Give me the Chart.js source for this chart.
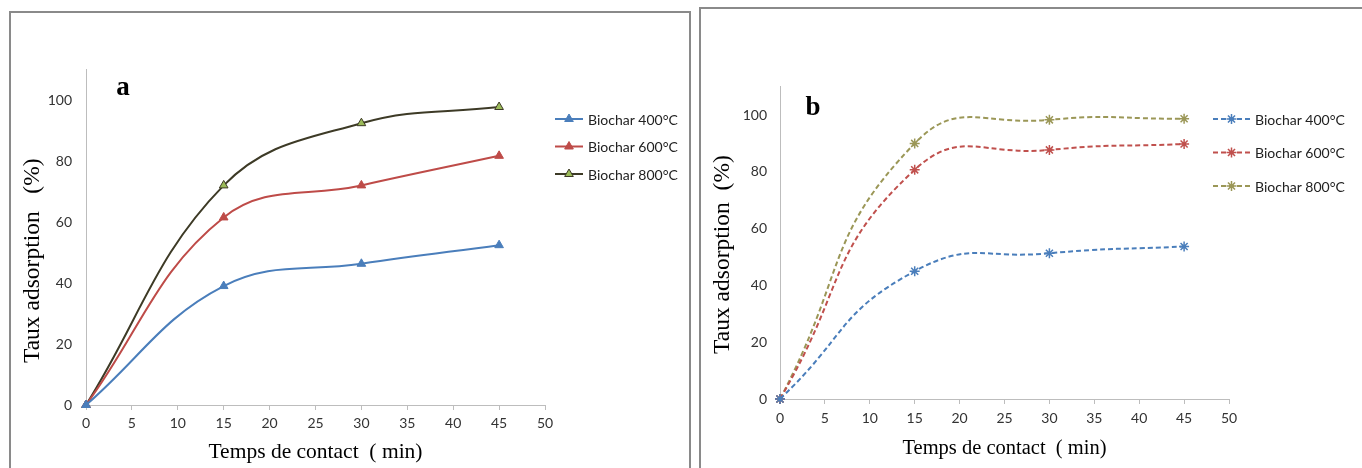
<!DOCTYPE html>
<html>
<head>
<meta charset="utf-8">
<script src="https://cdn.jsdelivr.net/npm/chart.js@4/dist/chart.umd.min.js"></script>
<style>
  html, body { margin: 0; padding: 0; background: #fff; }
  body { width: 1362px; height: 468px; position: relative; overflow: hidden; }
  canvas { position: absolute; top: 0; }
  #chartA { left: 0; }
  #chartB { left: 695px; }
  .frame { position: absolute; border: 2px solid #8a8a8a; pointer-events: none; }
  #frameA { left: 9px; top: 11px; width: 678px; height: 470px; }
  #frameB { left: 699px; top: 7px; width: 700px; height: 470px; }
</style>
</head>
<body>
<canvas id="chartA" width="695" height="468"></canvas>
<canvas id="chartB" width="667" height="468"></canvas>
<div class="frame" id="frameA"></div>
<div class="frame" id="frameB"></div>
<script>
// contact time (min)
const times = [0, 15, 30, 45];
const seriesNames = ['Biochar 400°C', 'Biochar 600°C', 'Biochar 800°C'];

// panel a
const a400 = [0, 39.0, 46.3, 52.4];
const a600 = [0, 61.5, 72.0, 81.7];
const a800 = [0, 72.0, 92.4, 97.7];

// panel b
const b400 = [0, 45.0, 51.3, 53.7];
const b600 = [0, 80.7, 87.7, 89.8];
const b800 = [0, 90.0, 98.3, 98.7];

const xTicks = [0, 5, 10, 15, 20, 25, 30, 35, 40, 45, 50];
const yTicks = [0, 20, 40, 60, 80, 100];

const serif = '"Liberation Serif", "Times New Roman", serif';
const sans = 'Lato, "Open Sans", sans-serif';

const toPoints = (vals) => times.map((t, i) => ({ x: t, y: vals[i] }));
const drawPoint = Chart.helpers.drawPoint;

// legend at the right of the plot, line + marker like the spreadsheet
const sideLegend = {
  id: 'sideLegend',
  afterDraw(chart, args, opts) {
    const ctx = chart.ctx;
    ctx.save();
    chart.data.datasets.forEach((ds, i) => {
      const y = opts.top + i * opts.gap;
      ctx.strokeStyle = ds.borderColor;
      ctx.lineWidth = 2;
      ctx.setLineDash(ds.borderDash || []);
      ctx.beginPath();
      ctx.moveTo(opts.x, y);
      ctx.lineTo(opts.x + opts.len, y);
      ctx.stroke();
      ctx.setLineDash([]);
      ctx.fillStyle = ds.pointBackgroundColor || ds.borderColor;
      ctx.strokeStyle = ds.pointBorderColor || ds.borderColor;
      ctx.lineWidth = ds.pointBorderWidth || 1;
      drawPoint(ctx, { pointStyle: ds.pointStyle, radius: ds.pointRadius, borderWidth: ds.pointBorderWidth || 1, rotation: 0 },
        opts.x + opts.len / 2, y);
      ctx.fillStyle = '#222';
      ctx.font = '14px ' + sans;
      ctx.textBaseline = 'middle';
      ctx.textAlign = 'left';
      ctx.fillText(seriesNames[i], opts.x + opts.len + 5, y + 1);
    });
    ctx.restore();
  }
};

// "a" / "b" panel letter
const panelLetter = {
  id: 'panelLetter',
  afterDraw(chart, args, opts) {
    const ctx = chart.ctx;
    ctx.save();
    ctx.font = 'bold 27px ' + serif;
    ctx.fillStyle = '#000';
    ctx.textAlign = 'center';
    ctx.textBaseline = 'alphabetic';
    ctx.fillText(opts.text, opts.x, opts.y);
    ctx.restore();
  }
};

function makeChart(id, sets, geo) {
  return new Chart(document.getElementById(id), {
    type: 'line',
    data: { datasets: sets },
    plugins: [sideLegend, panelLetter],
    options: {
      responsive: false,
      animation: false,
      devicePixelRatio: 1,
      layout: { padding: { left: 0, right: geo.padRight, top: geo.padTop, bottom: 0 } },
      elements: { line: { tension: geo.tension, cubicInterpolationMode: 'default', capBezierPoints: false } },
      plugins: {
        legend: { display: false },
        tooltip: { enabled: false },
        sideLegend: geo.legend,
        panelLetter: geo.letter
      },
      scales: {
        x: {
          type: 'linear',
          min: 0,
          max: 50,
          afterFit: (s) => { s.height = geo.xHeight; },
          afterBuildTicks: (s) => { s.ticks = xTicks.map(v => ({ value: v })); },
          grid: { display: true, drawOnChartArea: false, drawTicks: true, tickLength: 5, color: '#bdbdbd' },
          border: { display: true, color: '#bdbdbd', width: 1 },
          ticks: { color: '#333', font: { family: sans, size: 14 }, padding: geo.xTickPad, maxRotation: 0 },
          title: {
            display: true,
            text: 'Temps de contact  ( min)',
            color: '#000',
            font: { family: serif, size: geo.xTitleSize },
            padding: { top: 0, bottom: geo.xTitlePad }
          }
        },
        y: {
          min: 0,
          max: 110,
          afterFit: (s) => { s.width = geo.yWidth; },
          afterBuildTicks: (s) => { s.ticks = yTicks.map(v => ({ value: v })); },
          grid: { display: false, drawTicks: false },
          border: { display: true, color: '#bdbdbd', width: 1 },
          ticks: { color: '#333', font: { family: sans, size: 14 }, padding: geo.yTickPad },
          title: {
            display: true,
            // trailing spaces push the text a bit lower, as in the original
            text: geo.yTitle,
            color: '#000',
            font: { family: serif, size: 23.5 },
            padding: { top: geo.yTitlePad, bottom: 0 }
          }
        }
      }
    }
  });
}

function solidSet(vals, line, fill) {
  return {
    data: toPoints(vals),
    borderColor: line,
    backgroundColor: fill,
    borderWidth: 2,
    clip: false,
    pointStyle: 'triangle',
    pointRadius: 5,
    pointBackgroundColor: fill,
    pointBorderColor: line,
    pointBorderWidth: 1
  };
}

function dashedSet(vals, color) {
  return {
    data: toPoints(vals),
    borderColor: color,
    backgroundColor: color,
    borderWidth: 2,
    borderDash: [5, 3],
    clip: false,
    pointStyle: 'star',
    pointRadius: 5,
    pointBorderColor: color,
    pointBorderWidth: 1.5
  };
}

const setsA = [
  solidSet(a400, '#4a7ebb', '#4a7ebb'),
  solidSet(a600, '#be4b48', '#be4b48'),
  solidSet(a800, '#3d3a26', '#9bbb59')
];
const setsB = [
  dashedSet(b400, '#4a7ebb'),
  dashedSet(b600, '#c0504d'),
  dashedSet(b800, '#9b9757')
];

makeChart('chartA', setsA, {
  padRight: 150, padTop: 69.5, xHeight: 63, yWidth: 86, tension: 0.4,
  xTickPad: 5, xTitleSize: 21.5, xTitlePad: 3, yTickPad: 14, yTitlePad: 19,
  yTitle: 'Taux adsorption   (%)        ',
  legend: { x: 555, len: 28, top: 119, gap: 27.5 },
  letter: { text: 'a', x: 123, y: 95 }
});

makeChart('chartB', setsB, {
  padRight: 133, padTop: 86.6, xHeight: 69, yWidth: 85, tension: 0.5,
  xTickPad: 6, xTitleSize: 20.5, xTitlePad: 7, yTickPad: 13, yTitlePad: 14,
  yTitle: 'Taux adsorption  (%)    ',
  legend: { x: 518, len: 37, top: 119, gap: 33.5 },
  letter: { text: 'b', x: 118, y: 115 }
});
</script>
</body>
</html>
